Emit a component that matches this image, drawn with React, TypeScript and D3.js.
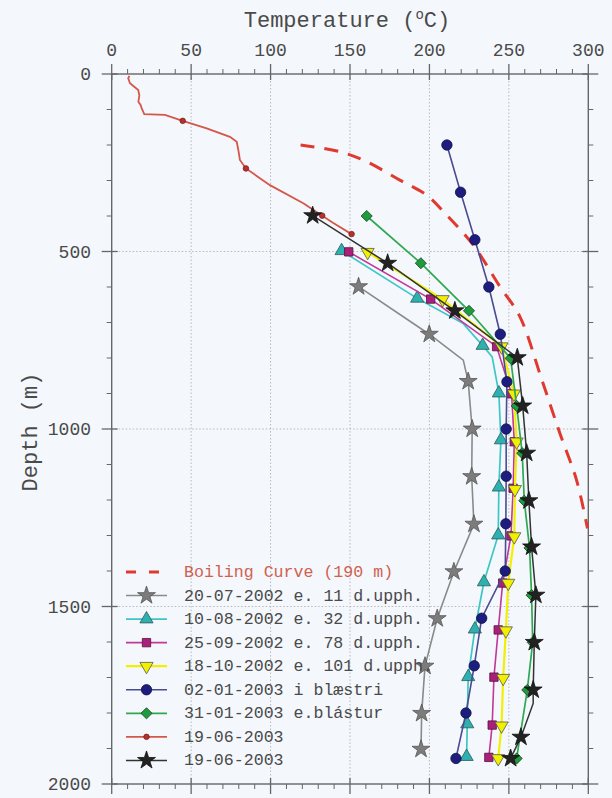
import React from 'react';
import * as d3 from 'd3';

// ---------- data (temperature °C, depth m, marker flag) ----------
const xTickValues = [0, 50, 100, 150, 200, 250, 300];
const yTickValues = [0, 500, 1000, 1500, 2000];
const xGridValues = [50, 100, 150, 200, 250];
const yGridValues = [500, 1000, 1500];

const boilingCurve: [number, number][] = [
  [118.9, 200], [143.7, 219], [160.5, 247], [181.4, 299], [198.2, 341], [210.8, 397],
  [227.6, 482], [244.4, 599], [257.0, 684], [270.5, 858], [282.1, 1012], [292.6, 1144], [299.5, 1280],
];

const gray20072002: number[][] = [
  [155.4, 599, 1], [199.9, 733, 1], [221.3, 806, 0], [224.4, 866, 1], [226.9, 1000, 1],
  [226.6, 1134, 1], [228.0, 1268, 1], [215.4, 1402, 1], [204.9, 1534, 1], [197.2, 1668, 1],
  [195.1, 1801, 1], [194.7, 1902, 1],
];

const cyan10082002: number[][] = [
  [144.7, 498, 1], [192.3, 632, 1], [221.3, 703, 0], [233.5, 765, 1], [239.5, 797, 0],
  [243.7, 899, 1], [245.0, 1031, 1], [243.7, 1164, 1], [243.3, 1299, 1], [234.3, 1431, 1],
  [228.6, 1564, 1], [224.4, 1698, 1], [223.8, 1831, 1], [223.4, 1923, 1],
];

const magenta25092002: number[][] = [
  [149.2, 501, 1], [200.8, 634, 1], [242.3, 768, 1], [251.7, 901, 1], [253.4, 1036, 1],
  [252.7, 1167, 1], [251.3, 1301, 1], [246.1, 1434, 1], [243.3, 1566, 1], [240.6, 1699, 1],
  [239.5, 1834, 1], [237.4, 1925, 1],
];

const yellow18102002: number[][] = [
  [161.1, 502, 1], [208.3, 635, 1], [245.4, 768, 1], [253.2, 901, 1], [254.9, 1036, 1],
  [253.8, 1170, 1], [253.4, 1303, 1], [249.6, 1434, 1], [248.1, 1568, 1], [246.4, 1702, 1],
  [245.4, 1836, 1], [243.3, 1928, 1],
];

const blue02012003: number[][] = [
  [211.0, 200, 1], [219.6, 333, 1], [228.6, 467, 1], [237.4, 600, 1], [244.6, 733, 1],
  [248.8, 867, 1], [248.3, 1000, 1], [248.3, 1133, 1], [248.1, 1267, 1], [247.7, 1400, 1],
  [232.9, 1533, 1], [228.2, 1667, 1], [223.0, 1800, 1], [216.7, 1928, 1],
];

const green31012003: number[][] = [
  [160.5, 400, 1], [194.6, 533, 1], [224.9, 667, 1], [251.1, 801, 1], [254.9, 935, 1],
  [258.4, 1068, 1], [259.7, 1202, 1], [263.0, 1335, 1], [264.3, 1468, 1], [265.0, 1601, 1],
  [261.6, 1735, 1], [254.9, 1928, 1],
];

const red19062003: number[][] = [
  [11.1, 5, 0], [10.4, 12, 0], [11.5, 26, 0], [14.2, 36, 0], [16.7, 45, 0], [17.4, 60, 0],
  [16.8, 78, 0], [18.2, 87, 0], [18.9, 97, 0], [20.5, 113, 0], [33.5, 115, 0], [44.7, 132, 1],
  [59.8, 153, 0], [74.4, 177, 0], [78.7, 191, 0], [79.7, 214, 0], [80.7, 242, 0], [84.5, 266, 1],
  [99.6, 313, 0], [120.6, 364, 0], [132.5, 399, 1], [139.5, 420, 0], [151.0, 451, 1],
];

const black19062003: number[][] = [
  [126.5, 399, 1], [173.7, 533, 1], [216.0, 667, 1], [255.3, 799, 1], [258.7, 935, 1],
  [261.2, 1068, 1], [262.6, 1202, 1], [264.3, 1332, 1], [267.0, 1468, 1], [266.0, 1601, 1],
  [265.3, 1735, 1], [265.3, 1773, 0], [257.6, 1868, 1], [251.1, 1928, 1],
];

const boilingLabel = 'Boiling Curve (190 m)';
const seriesLabels = [
  '20-07-2002 e. 11 d.upph.',
  '10-08-2002 e. 32 d.upph.',
  '25-09-2002 e. 78 d.upph.',
  '18-10-2002 e. 101 d.upph.',
  '02-01-2003 i blæstri',
  '31-01-2003 e.blástur',
  '19-06-2003',
  '19-06-2003',
];

// ---------- styles ----------
type Style = { line: string; fill: string; stroke: string; symbol: string; size: number; rot: number; lw: number };
const styles: Style[] = [
  { line: '#8a8a8a', fill: '#7c7c7c', stroke: '#555', symbol: 'star', size: 100, rot: 0, lw: 1.6 },
  { line: '#3ec6c6', fill: '#2fb0b0', stroke: '#2a5a5a', symbol: 'triangle', size: 75, rot: 0, lw: 1.7 },
  { line: '#c03898', fill: '#a8207a', stroke: '#5a1040', symbol: 'square', size: 70, rot: 0, lw: 1.6 },
  { line: '#f2f000', fill: '#f0f000', stroke: '#555', symbol: 'triangle', size: 75, rot: 180, lw: 2.2 },
  { line: '#4b4b92', fill: '#1d1d80', stroke: '#111144', symbol: 'circle', size: 85, rot: 0, lw: 1.6 },
  { line: '#2fa850', fill: '#1f9a3e', stroke: '#1a4a25', symbol: 'square', size: 62, rot: 45, lw: 1.7 },
  { line: '#d4574a', fill: '#b8302c', stroke: '#7a2020', symbol: 'circle', size: 24, rot: 0, lw: 1.8 },
  { line: '#333', fill: '#222', stroke: '#111', symbol: 'star', size: 100, rot: 0, lw: 1.5 },
];
const seriesData = [gray20072002, cyan10082002, magenta25092002, yellow18102002, blue02012003, green31012003, red19062003, black19062003];

const symbolTypes: Record<string, d3.SymbolType> = {
  star: d3.symbolStar,
  triangle: d3.symbolTriangle,
  square: d3.symbolSquare,
  circle: d3.symbolCircle,
};

const W = 612;
const H = 798;
const x = d3.scaleLinear().domain([0, 300]).range([111.7, 588.3]);
const y = d3.scaleLinear().domain([0, 2000]).range([74, 784]);

const MONO = '"Liberation Mono", "DejaVu Sans Mono", monospace';

function Marker({ st, cx, cy }: { st: Style; cx: number; cy: number }) {
  const d = d3.symbol().type(symbolTypes[st.symbol]).size(st.size)() as string;
  return (
    <path d={d} transform={`translate(${cx},${cy}) rotate(${st.rot})`} fill={st.fill} stroke={st.stroke} strokeWidth={0.8} />
  );
}

export default function App() {
  const line = d3.line<number[]>().x((d) => x(d[0])).y((d) => y(d[1]));
  const bline = d3.line<[number, number]>().x((d) => x(d[0])).y((d) => y(d[1])).curve(d3.curveCatmullRom);
  const x0 = x(0), x1 = x(300), y0 = y(0), y1 = y(2000);
  const minorX = d3.range(0, 301, 10).filter((v) => v % 50 !== 0);
  const minorY = d3.range(0, 2001, 100).filter((v) => v % 500 !== 0);
  const axisColor = '#666';
  const textColor = '#4a4a4a';

  const legendX1 = 126, legendX2 = 167, legendTextX = 184, legendY0 = 572, legendStep = 23.55;

  return (
    <svg width={W} height={H} style={{ position: 'absolute', left: 0, top: 0, fontFamily: MONO }}>
      <rect x={0} y={0} width={W} height={H} fill="#f4f8fc" />

      {/* grid */}
      {xGridValues.map((v) => (
        <line key={'gx' + v} x1={x(v)} x2={x(v)} y1={y0} y2={y1} stroke="#aaa" strokeWidth={0.8} strokeDasharray="1.5,2" />
      ))}
      {yGridValues.map((v) => (
        <line key={'gy' + v} x1={x0} x2={x1} y1={y(v)} y2={y(v)} stroke="#aaa" strokeWidth={0.8} strokeDasharray="1.5,2" />
      ))}

      {/* frame */}
      <rect x={x0} y={y0} width={x1 - x0} height={y1 - y0} fill="none" stroke={axisColor} strokeWidth={1.4} />

      {/* x ticks top & bottom */}
      {xTickValues.map((v) => (
        <g key={'xt' + v}>
          <line x1={x(v)} x2={x(v)} y1={y0 - 10} y2={y0 + 6} stroke={axisColor} strokeWidth={1.3} />
          <line x1={x(v)} x2={x(v)} y1={y1 - 6} y2={y1 + 10} stroke={axisColor} strokeWidth={1.3} />
          <text x={x(v)} y={56} textAnchor="middle" fontSize={18} fill={textColor}>{v}</text>
        </g>
      ))}
      {minorX.map((v) => (
        <g key={'xm' + v}>
          <line x1={x(v)} x2={x(v)} y1={y0 - 5} y2={y0} stroke={axisColor} strokeWidth={1} />
          <line x1={x(v)} x2={x(v)} y1={y1} y2={y1 + 5} stroke={axisColor} strokeWidth={1} />
        </g>
      ))}
      {/* y ticks left & right */}
      {yTickValues.map((v) => (
        <g key={'yt' + v}>
          <line x1={x0 - 10} x2={x0 + 6} y1={y(v)} y2={y(v)} stroke={axisColor} strokeWidth={1.3} />
          <line x1={x1 - 6} x2={x1 + 10} y1={y(v)} y2={y(v)} stroke={axisColor} strokeWidth={1.3} />
          <text x={91} y={y(v) + 6} textAnchor="end" fontSize={18} fill={textColor}>{v}</text>
        </g>
      ))}
      {minorY.map((v) => (
        <g key={'ym' + v}>
          <line x1={x0 - 5} x2={x0} y1={y(v)} y2={y(v)} stroke={axisColor} strokeWidth={1} />
          <line x1={x1} x2={x1 + 5} y1={y(v)} y2={y(v)} stroke={axisColor} strokeWidth={1} />
        </g>
      ))}

      {/* titles */}
      <text x={347} y={27} textAnchor="middle" fontSize={22} fill={textColor}>
        Temperature (<tspan fontSize={14} dy={-8}>o</tspan><tspan dy={8}>C)</tspan>
      </text>
      <text transform="translate(37,432) rotate(-90)" textAnchor="middle" fontSize={22} fill={textColor}>Depth (m)</text>

      {/* boiling curve */}
      <path d={bline(boilingCurve) as string} fill="none" stroke="#e03a30" strokeWidth={3} strokeDasharray="14,10" />

      {/* series */}
      {seriesData.map((data, i) => {
        const st = styles[i];
        return (
          <g key={'s' + i}>
            <path d={line(data) as string} fill="none" stroke={st.line} strokeWidth={st.lw} />
            {data.filter((d) => d[2] === 1).map((d, j) => (
              <Marker key={j} st={st} cx={x(d[0])} cy={y(d[1])} />
            ))}
          </g>
        );
      })}

      {/* legend */}
      <g>
        <line x1={legendX1} x2={legendX2} y1={legendY0} y2={legendY0} stroke="#e03a30" strokeWidth={3} strokeDasharray="10,13" />
        <text x={legendTextX} y={legendY0 + 5} fontSize={16.6} fill="#d0614f">{boilingLabel}</text>
        {seriesLabels.map((lab, i) => {
          const ly = legendY0 + legendStep * (i + 1);
          const st = styles[i];
          return (
            <g key={'lg' + i}>
              <line x1={legendX1} x2={legendX2} y1={ly} y2={ly} stroke={st.line} strokeWidth={st.lw} />
              <Marker st={st} cx={(legendX1 + legendX2) / 2} cy={ly} />
              <text x={legendTextX} y={ly + 5} fontSize={16.6} fill={textColor}>{lab}</text>
            </g>
          );
        })}
      </g>
    </svg>
  );
}
